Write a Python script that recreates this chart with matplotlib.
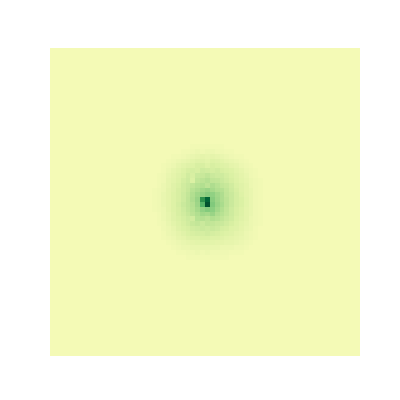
import numpy as np
import matplotlib
matplotlib.use("Agg")
import matplotlib.pyplot as plt

grid_size = 64
background = 14
patch_row0 = 20
patch_col0 = 21
patch = [
    [14,14,14,14,14,14,14,14,15,15,15,15,15,15,15,14,14,14,14,14,14,14,14,14],
    [14,14,14,14,14,14,15,15,16,17,16,17,17,16,16,15,15,14,14,14,14,14,14,14],
    [14,14,14,14,15,15,16,17,18,19,20,19,20,19,18,17,16,15,15,14,14,14,14,14],
    [14,14,14,15,16,17,18,19,21,22,22,21,23,22,21,19,18,17,16,15,14,14,14,14],
    [14,14,15,16,17,19,21,22,23,25,25,23,25,24,23,22,20,19,17,16,15,14,14,14],
    [14,14,15,17,19,21,23,25,26,25,28,27,26,27,25,24,23,21,19,17,16,15,14,14],
    [14,15,16,18,20,22,24,27,25,29,30,32,29,28,28,26,24,22,20,18,16,15,14,14],
    [14,15,16,19,21,23,26,28,24,31,33,35,32,31,29,27,25,23,21,19,17,16,15,14],
    [14,15,17,19,22,24,27,29,32,34,36,33,37,34,31,30,27,24,22,20,17,16,15,14],
    [15,16,17,20,22,25,27,30,34,37,40,42,39,36,35,31,28,25,22,20,18,16,15,14],
    [15,16,18,20,23,25,28,31,36,40,43,46,44,40,37,32,29,26,23,20,18,16,15,14],
    [15,16,18,20,23,25,28,32,37,42,70,88,46,41,37,33,29,26,24,21,18,16,15,14],
    [15,16,18,20,23,26,29,32,35,41,58,95,48,42,38,33,29,26,24,21,18,16,15,14],
    [15,16,17,20,23,25,28,31,34,39,44,47,45,40,36,32,28,25,23,20,18,16,15,14],
    [14,15,17,19,22,25,27,30,33,36,40,39,42,37,34,31,28,25,23,20,18,16,15,14],
    [14,15,17,19,22,24,26,28,27,34,35,33,36,34,32,29,27,24,22,20,17,16,15,14],
    [14,15,16,18,21,23,25,27,30,31,29,32,31,30,29,27,25,23,21,19,17,16,15,14],
    [14,14,16,17,19,22,24,25,27,28,29,28,29,28,26,25,23,22,20,18,17,15,14,14],
    [14,14,15,17,18,20,22,24,25,26,26,27,26,25,24,23,22,20,19,17,16,15,14,14],
    [14,14,15,16,17,19,20,22,23,23,24,24,23,23,22,21,20,19,18,17,16,15,14,14],
    [14,14,14,15,16,17,18,19,20,21,21,21,21,20,20,19,19,18,17,16,15,14,14,14],
    [14,14,14,14,15,16,17,17,18,18,18,18,18,18,17,17,17,16,16,15,14,14,14,14],
    [14,14,14,14,14,15,15,16,16,17,16,17,16,16,16,16,15,15,15,14,14,14,14,14],
    [14,14,14,14,14,14,14,15,15,15,15,15,15,15,15,15,14,14,14,14,14,14,14,14],
]

data = np.full((grid_size, grid_size), background, dtype=float)
p = np.array(patch, dtype=float)
data[patch_row0:patch_row0 + p.shape[0], patch_col0:patch_col0 + p.shape[1]] = p
data = data / 100.0

fig, ax = plt.subplots(figsize=(4, 4), dpi=100)
ax.imshow(data, cmap="YlGn", vmin=0, vmax=1, interpolation="nearest", aspect="auto")
ax.axis("off")
fig.savefig("out.png", dpi=100)
